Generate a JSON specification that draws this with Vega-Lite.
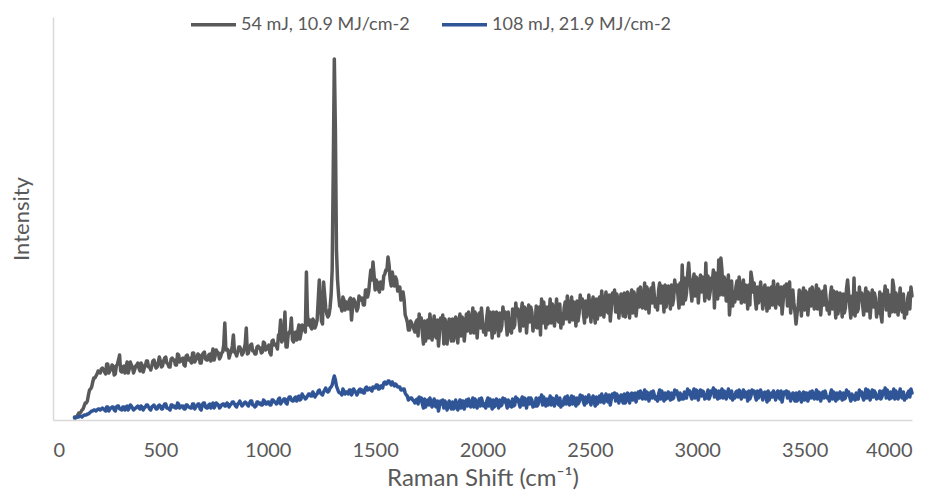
{
"$schema": "https://vega.github.io/schema/vega-lite/v6.json",
"width": 859, "height": 403,
"autosize": {"type": "none"},
"padding": {"left": 53, "top": 17, "right": 27, "bottom": 77},
"config": {"view": {"stroke": null}, "font": "Lato"},
"data": {"values": [
{"x":100,"g":3,"b":2},{"x":110,"g":3,"b":3},{"x":120,"g":7,"b":3},{"x":130,"g":8,"b":4},{"x":140,"g":11,"b":4},{"x":150,"g":17,"b":5},{"x":160,"g":19,"b":6},{"x":170,"g":30,"b":7},{"x":180,"g":33,"b":9},{"x":190,"g":42,"b":10},
{"x":200,"g":44,"b":9},{"x":210,"g":49,"b":11},{"x":220,"g":47,"b":10},{"x":230,"g":52,"b":12},{"x":240,"g":48,"b":10},{"x":250,"g":56,"b":13},{"x":260,"g":47,"b":9},{"x":270,"g":51,"b":12},{"x":280,"g":54,"b":13},{"x":290,"g":46,"b":9},
{"x":300,"g":56,"b":14},{"x":310,"g":65,"b":11},{"x":320,"g":48,"b":10},{"x":330,"g":54,"b":13},{"x":340,"g":53,"b":13},{"x":350,"g":47,"b":10},{"x":360,"g":58,"b":15},{"x":370,"g":53,"b":12},{"x":380,"g":50,"b":11},{"x":390,"g":55,"b":13},
{"x":400,"g":52,"b":12},{"x":410,"g":57,"b":14},{"x":420,"g":48,"b":10},{"x":430,"g":54,"b":13},{"x":440,"g":59,"b":15},{"x":450,"g":53,"b":11},{"x":460,"g":54,"b":13},{"x":470,"g":60,"b":15},{"x":480,"g":52,"b":11},{"x":490,"g":57,"b":14},
{"x":500,"g":59,"b":14},{"x":510,"g":54,"b":11},{"x":520,"g":62,"b":16},{"x":530,"g":57,"b":12},{"x":540,"g":53,"b":11},{"x":550,"g":61,"b":15},{"x":560,"g":60,"b":13},{"x":570,"g":55,"b":12},{"x":580,"g":66,"b":17},{"x":590,"g":58,"b":12},
{"x":600,"g":61,"b":14},{"x":610,"g":55,"b":11},{"x":620,"g":64,"b":15},{"x":630,"g":60,"b":13},{"x":640,"g":59,"b":12},{"x":650,"g":67,"b":16},{"x":660,"g":58,"b":11},{"x":670,"g":62,"b":14},{"x":680,"g":65,"b":16},{"x":690,"g":57,"b":10},
{"x":700,"g":67,"b":17},{"x":710,"g":61,"b":13},{"x":720,"g":60,"b":12},{"x":730,"g":66,"b":16},{"x":740,"g":65,"b":15},{"x":750,"g":60,"b":12},{"x":760,"g":70,"b":17},{"x":770,"g":67,"b":15},{"x":780,"g":63,"b":13},{"x":790,"g":68,"b":16},
{"x":800,"g":97,"b":14},{"x":810,"g":71,"b":17},{"x":820,"g":62,"b":13},{"x":830,"g":68,"b":16},{"x":840,"g":85,"b":18},{"x":850,"g":67,"b":14},{"x":860,"g":68,"b":16},{"x":870,"g":73,"b":19},{"x":880,"g":65,"b":14},{"x":890,"g":71,"b":17},
{"x":900,"g":92,"b":17},{"x":910,"g":67,"b":14},{"x":920,"g":75,"b":19},{"x":930,"g":69,"b":15},{"x":940,"g":66,"b":13},{"x":950,"g":73,"b":18},{"x":960,"g":72,"b":16},{"x":970,"g":67,"b":15},{"x":980,"g":78,"b":20},{"x":990,"g":70,"b":16},
{"x":1000,"g":73,"b":18},{"x":1010,"g":67,"b":15},{"x":1020,"g":79,"b":20},{"x":1030,"g":75,"b":18},{"x":1040,"g":74,"b":16},{"x":1050,"g":85,"b":21},{"x":1060,"g":100,"b":16},{"x":1070,"g":80,"b":19},{"x":1080,"g":108,"b":21},{"x":1090,"g":73,"b":16},
{"x":1100,"g":88,"b":23},{"x":1110,"g":102,"b":20},{"x":1120,"g":78,"b":19},{"x":1130,"g":88,"b":23},{"x":1140,"g":89,"b":23},{"x":1150,"g":81,"b":20},{"x":1160,"g":95,"b":26},{"x":1170,"g":91,"b":23},{"x":1180,"g":148,"b":22},{"x":1190,"g":95,"b":26},
{"x":1200,"g":93,"b":24},{"x":1210,"g":101,"b":28},{"x":1220,"g":92,"b":23},{"x":1230,"g":100,"b":26},{"x":1240,"g":140,"b":30},{"x":1250,"g":99,"b":26},{"x":1260,"g":138,"b":28},{"x":1270,"g":112,"b":32},{"x":1280,"g":103,"b":28},{"x":1290,"g":112,"b":32},
{"x":1300,"g":150,"b":35},{"x":1310,"g":361,"b":44},{"x":1320,"g":170,"b":34},{"x":1330,"g":125,"b":28},{"x":1340,"g":114,"b":27},{"x":1350,"g":123,"b":31},{"x":1360,"g":110,"b":26},{"x":1370,"g":116,"b":28},{"x":1380,"g":120,"b":30},{"x":1390,"g":100,"b":25},
{"x":1400,"g":121,"b":31},{"x":1410,"g":114,"b":28},{"x":1420,"g":112,"b":27},{"x":1430,"g":122,"b":31},{"x":1440,"g":122,"b":30},{"x":1450,"g":115,"b":27},{"x":1460,"g":130,"b":33},{"x":1470,"g":128,"b":31},{"x":1480,"g":150,"b":30},{"x":1490,"g":158,"b":33},
{"x":1500,"g":130,"b":32},{"x":1510,"g":138,"b":35},{"x":1520,"g":128,"b":31},{"x":1530,"g":136,"b":34},{"x":1540,"g":144,"b":37},{"x":1550,"g":150,"b":36},{"x":1560,"g":163,"b":39},{"x":1570,"g":140,"b":37},{"x":1580,"g":148,"b":38},{"x":1590,"g":134,"b":34},
{"x":1600,"g":140,"b":35},{"x":1610,"g":133,"b":33},{"x":1620,"g":120,"b":30},{"x":1630,"g":128,"b":31},{"x":1640,"g":105,"b":27},{"x":1650,"g":98,"b":24},{"x":1660,"g":90,"b":21},{"x":1670,"g":97,"b":22},{"x":1680,"g":91,"b":19},{"x":1690,"g":98,"b":20},
{"x":1700,"g":84,"b":16},{"x":1710,"g":95,"b":19},{"x":1720,"g":87,"b":16},{"x":1730,"g":99,"b":21},{"x":1740,"g":89,"b":17},{"x":1750,"g":82,"b":15},{"x":1760,"g":95,"b":19},{"x":1770,"g":92,"b":17},{"x":1780,"g":84,"b":14},{"x":1790,"g":100,"b":19},
{"x":1800,"g":87,"b":14},{"x":1810,"g":92,"b":16},{"x":1820,"g":76,"b":12},{"x":1830,"g":97,"b":17},{"x":1840,"g":90,"b":15},{"x":1850,"g":88,"b":13},{"x":1860,"g":101,"b":18},{"x":1870,"g":85,"b":12},{"x":1880,"g":93,"b":15},{"x":1890,"g":99,"b":17},
{"x":1900,"g":84,"b":12},{"x":1910,"g":101,"b":19},{"x":1920,"g":91,"b":15},{"x":1930,"g":89,"b":14},{"x":1940,"g":99,"b":18},{"x":1950,"g":98,"b":17},{"x":1960,"g":87,"b":13},{"x":1970,"g":105,"b":19},{"x":1980,"g":98,"b":16},{"x":1990,"g":92,"b":14},
{"x":2000,"g":100,"b":18},{"x":2010,"g":95,"b":16},{"x":2020,"g":103,"b":19},{"x":2030,"g":90,"b":14},{"x":2040,"g":98,"b":17},{"x":2050,"g":108,"b":20},{"x":2060,"g":95,"b":15},{"x":2070,"g":98,"b":17},{"x":2080,"g":107,"b":20},{"x":2090,"g":94,"b":15},
{"x":2100,"g":102,"b":18},{"x":2110,"g":98,"b":17},{"x":2120,"g":108,"b":20},{"x":2130,"g":101,"b":18},{"x":2140,"g":111,"b":21},{"x":2150,"g":95,"b":15},{"x":2160,"g":105,"b":19},{"x":2170,"g":100,"b":17},{"x":2180,"g":108,"b":20},{"x":2190,"g":94,"b":15},
{"x":2200,"g":111,"b":21},{"x":2210,"g":103,"b":18},{"x":2220,"g":98,"b":16},{"x":2230,"g":108,"b":20},{"x":2240,"g":102,"b":17},{"x":2250,"g":114,"b":22},{"x":2260,"g":99,"b":16},{"x":2270,"g":85,"b":19},{"x":2280,"g":97,"b":15},{"x":2290,"g":106,"b":18},
{"x":2300,"g":113,"b":21},{"x":2310,"g":103,"b":18},{"x":2320,"g":97,"b":15},{"x":2330,"g":112,"b":21},{"x":2340,"g":107,"b":19},{"x":2350,"g":101,"b":17},{"x":2360,"g":116,"b":22},{"x":2370,"g":106,"b":18},{"x":2380,"g":112,"b":21},{"x":2390,"g":101,"b":16},
{"x":2400,"g":115,"b":21},{"x":2410,"g":108,"b":19},{"x":2420,"g":100,"b":16},{"x":2430,"g":113,"b":20},{"x":2440,"g":119,"b":22},{"x":2450,"g":107,"b":18},{"x":2460,"g":113,"b":21},{"x":2470,"g":106,"b":18},{"x":2480,"g":119,"b":23},{"x":2490,"g":109,"b":19},
{"x":2500,"g":113,"b":20},{"x":2510,"g":115,"b":21},{"x":2520,"g":107,"b":18},{"x":2530,"g":121,"b":23},{"x":2540,"g":111,"b":19},{"x":2550,"g":105,"b":18},{"x":2560,"g":118,"b":23},{"x":2570,"g":115,"b":21},{"x":2580,"g":109,"b":19},{"x":2590,"g":125,"b":25},
{"x":2600,"g":112,"b":21},{"x":2610,"g":117,"b":23},{"x":2620,"g":108,"b":19},{"x":2630,"g":122,"b":24},{"x":2640,"g":116,"b":22},{"x":2650,"g":113,"b":20},{"x":2660,"g":127,"b":26},{"x":2670,"g":111,"b":20},{"x":2680,"g":119,"b":23},{"x":2690,"g":124,"b":26},
{"x":2700,"g":107,"b":20},{"x":2710,"g":124,"b":27},{"x":2720,"g":115,"b":23},{"x":2730,"g":113,"b":22},{"x":2740,"g":123,"b":26},{"x":2750,"g":122,"b":25},{"x":2760,"g":111,"b":21},{"x":2770,"g":129,"b":27},{"x":2780,"g":123,"b":24},{"x":2790,"g":117,"b":22},
{"x":2800,"g":125,"b":25},{"x":2810,"g":121,"b":23},{"x":2820,"g":130,"b":26},{"x":2830,"g":117,"b":21},{"x":2840,"g":126,"b":24},{"x":2850,"g":135,"b":27},{"x":2860,"g":123,"b":22},{"x":2870,"g":126,"b":24},{"x":2880,"g":135,"b":27},{"x":2890,"g":121,"b":22},
{"x":2900,"g":129,"b":26},{"x":2910,"g":125,"b":24},{"x":2920,"g":137,"b":27},{"x":2930,"g":155,"b":25},{"x":2940,"g":142,"b":28},{"x":2950,"g":127,"b":22},{"x":2960,"g":157,"b":26},{"x":2970,"g":130,"b":24},{"x":2980,"g":138,"b":27},{"x":2990,"g":124,"b":22},
{"x":3000,"g":141,"b":29},{"x":3010,"g":133,"b":26},{"x":3020,"g":128,"b":24},{"x":3030,"g":138,"b":28},{"x":3040,"g":157,"b":25},{"x":3050,"g":144,"b":30},{"x":3060,"g":128,"b":24},{"x":3070,"g":137,"b":27},{"x":3080,"g":112,"b":23},{"x":3090,"g":136,"b":26},
{"x":3100,"g":160,"b":29},{"x":3110,"g":162,"b":25},{"x":3120,"g":125,"b":22},{"x":3130,"g":139,"b":28},{"x":3140,"g":133,"b":26},{"x":3150,"g":105,"b":24},{"x":3160,"g":139,"b":29},{"x":3170,"g":128,"b":25},{"x":3180,"g":133,"b":28},{"x":3190,"g":121,"b":23},
{"x":3200,"g":134,"b":28},{"x":3210,"g":127,"b":26},{"x":3220,"g":118,"b":23},{"x":3230,"g":130,"b":27},{"x":3240,"g":135,"b":29},{"x":3250,"g":148,"b":24},{"x":3260,"g":128,"b":27},{"x":3270,"g":121,"b":24},{"x":3280,"g":133,"b":29},{"x":3290,"g":122,"b":25},
{"x":3300,"g":126,"b":26},{"x":3310,"g":128,"b":27},{"x":3320,"g":120,"b":24},{"x":3330,"g":132,"b":29},{"x":3340,"g":122,"b":25},{"x":3350,"g":115,"b":23},{"x":3360,"g":127,"b":27},{"x":3370,"g":124,"b":25},{"x":3380,"g":117,"b":23},{"x":3390,"g":133,"b":29},
{"x":3400,"g":119,"b":24},{"x":3410,"g":124,"b":26},{"x":3420,"g":114,"b":22},{"x":3430,"g":138,"b":26},{"x":3440,"g":121,"b":24},{"x":3450,"g":117,"b":22},{"x":3460,"g":96,"b":27},{"x":3470,"g":114,"b":21},{"x":3480,"g":121,"b":24},{"x":3490,"g":126,"b":26},
{"x":3500,"g":110,"b":20},{"x":3510,"g":127,"b":27},{"x":3520,"g":117,"b":23},{"x":3530,"g":114,"b":22},{"x":3540,"g":124,"b":26},{"x":3550,"g":122,"b":25},{"x":3560,"g":111,"b":21},{"x":3570,"g":128,"b":27},{"x":3580,"g":121,"b":24},{"x":3590,"g":115,"b":22},
{"x":3600,"g":122,"b":25},{"x":3610,"g":117,"b":23},{"x":3620,"g":125,"b":26},{"x":3630,"g":111,"b":21},{"x":3640,"g":119,"b":24},{"x":3650,"g":128,"b":27},{"x":3660,"g":115,"b":22},{"x":3670,"g":118,"b":24},{"x":3680,"g":126,"b":27},{"x":3690,"g":112,"b":22},
{"x":3700,"g":140,"b":25},{"x":3710,"g":114,"b":23},{"x":3720,"g":124,"b":26},{"x":3730,"g":142,"b":24},{"x":3740,"g":127,"b":27},{"x":3750,"g":111,"b":21},{"x":3760,"g":120,"b":25},{"x":3770,"g":115,"b":23},{"x":3780,"g":123,"b":26},{"x":3790,"g":109,"b":22},
{"x":3800,"g":126,"b":28},{"x":3810,"g":118,"b":25},{"x":3820,"g":113,"b":23},{"x":3830,"g":122,"b":27},{"x":3840,"g":116,"b":24},{"x":3850,"g":128,"b":29},{"x":3860,"g":98,"b":23},{"x":3870,"g":121,"b":26},{"x":3880,"g":110,"b":22},{"x":3890,"g":119,"b":25},
{"x":3900,"g":125,"b":28},{"x":3910,"g":140,"b":24},{"x":3920,"g":108,"b":21},{"x":3930,"g":123,"b":27},{"x":3940,"g":118,"b":25},{"x":3950,"g":112,"b":23},{"x":3960,"g":126,"b":28},{"x":3970,"g":116,"b":24},{"x":3980,"g":122,"b":27},{"x":3990,"g":111,"b":23},
{"x":4000,"g":124,"b":27},
{"x":105,"g":3,"b":2},{"x":115,"g":5,"b":3},{"x":125,"g":7,"b":4},{"x":135,"g":10,"b":3},{"x":145,"g":14,"b":5},{"x":155,"g":17,"b":5},{"x":165,"g":25,"b":6},{"x":175,"g":31,"b":8},{"x":185,"g":38,"b":9},{"x":195,"g":42,"b":10},
{"x":205,"g":46,"b":10},{"x":215,"g":48,"b":11},{"x":225,"g":51,"b":11},{"x":235,"g":50,"b":11},{"x":245,"g":46,"b":9},{"x":255,"g":56,"b":13},{"x":265,"g":49,"b":11},{"x":275,"g":55,"b":13},{"x":285,"g":45,"b":10},{"x":295,"g":54,"b":13},
{"x":305,"g":60,"b":14},{"x":315,"g":49,"b":11},{"x":325,"g":53,"b":13},{"x":335,"g":47,"b":10},{"x":345,"g":58,"b":14},{"x":355,"g":51,"b":12},{"x":365,"g":55,"b":14},{"x":375,"g":47,"b":10},{"x":385,"g":54,"b":12},{"x":395,"g":57,"b":14},
{"x":405,"g":49,"b":11},{"x":415,"g":55,"b":13},{"x":425,"g":52,"b":12},{"x":435,"g":59,"b":15},{"x":445,"g":53,"b":13},{"x":455,"g":50,"b":10},{"x":465,"g":59,"b":14},{"x":475,"g":56,"b":13},{"x":485,"g":53,"b":11},{"x":495,"g":63,"b":15},
{"x":505,"g":53,"b":11},{"x":515,"g":59,"b":14},{"x":525,"g":63,"b":16},{"x":535,"g":56,"b":12},{"x":545,"g":53,"b":10},{"x":555,"g":62,"b":15},{"x":565,"g":60,"b":14},{"x":575,"g":55,"b":12},{"x":585,"g":65,"b":16},{"x":595,"g":59,"b":13},
{"x":605,"g":62,"b":14},{"x":615,"g":54,"b":11},{"x":625,"g":65,"b":15},{"x":635,"g":62,"b":13},{"x":645,"g":57,"b":12},{"x":655,"g":67,"b":16},{"x":665,"g":60,"b":13},{"x":675,"g":66,"b":16},{"x":685,"g":57,"b":11},{"x":695,"g":65,"b":15},
{"x":705,"g":68,"b":17},{"x":715,"g":60,"b":12},{"x":725,"g":65,"b":15},{"x":735,"g":59,"b":12},{"x":745,"g":71,"b":17},{"x":755,"g":64,"b":14},{"x":765,"g":68,"b":16},{"x":775,"g":61,"b":12},{"x":785,"g":67,"b":15},{"x":795,"g":75,"b":16},
{"x":805,"g":70,"b":14},{"x":815,"g":70,"b":16},{"x":825,"g":66,"b":15},{"x":835,"g":74,"b":18},{"x":845,"g":68,"b":16},{"x":855,"g":64,"b":13},{"x":865,"g":73,"b":17},{"x":875,"g":70,"b":16},{"x":885,"g":67,"b":15},{"x":895,"g":76,"b":18},
{"x":905,"g":66,"b":15},{"x":915,"g":72,"b":17},{"x":925,"g":76,"b":19},{"x":935,"g":69,"b":15},{"x":945,"g":66,"b":14},{"x":955,"g":74,"b":18},{"x":965,"g":72,"b":17},{"x":975,"g":68,"b":15},{"x":985,"g":77,"b":19},{"x":995,"g":71,"b":16},
{"x":1005,"g":75,"b":18},{"x":1015,"g":65,"b":15},{"x":1025,"g":80,"b":20},{"x":1035,"g":76,"b":18},{"x":1045,"g":71,"b":17},{"x":1055,"g":86,"b":22},{"x":1065,"g":78,"b":18},{"x":1075,"g":85,"b":21},{"x":1085,"g":73,"b":17},{"x":1095,"g":85,"b":21},
{"x":1105,"g":89,"b":23},{"x":1115,"g":80,"b":19},{"x":1125,"g":87,"b":22},{"x":1135,"g":80,"b":19},{"x":1145,"g":95,"b":24},{"x":1155,"g":87,"b":21},{"x":1165,"g":94,"b":24},{"x":1175,"g":88,"b":21},{"x":1185,"g":105,"b":24},{"x":1195,"g":100,"b":26},
{"x":1205,"g":91,"b":24},{"x":1215,"g":99,"b":26},{"x":1225,"g":95,"b":25},{"x":1235,"g":120,"b":29},{"x":1245,"g":118,"b":27},{"x":1255,"g":96,"b":25},{"x":1265,"g":125,"b":30},{"x":1275,"g":106,"b":29},{"x":1285,"g":105,"b":29},{"x":1295,"g":125,"b":33},
{"x":1305,"g":250,"b":40},{"x":1315,"g":290,"b":40},{"x":1325,"g":140,"b":31},{"x":1335,"g":114,"b":27},{"x":1345,"g":109,"b":25},{"x":1355,"g":120,"b":29},{"x":1365,"g":118,"b":28},{"x":1375,"g":111,"b":26},{"x":1385,"g":122,"b":30},{"x":1395,"g":113,"b":27},
{"x":1405,"g":119,"b":29},{"x":1415,"g":109,"b":25},{"x":1425,"g":124,"b":30},{"x":1435,"g":120,"b":28},{"x":1445,"g":115,"b":27},{"x":1455,"g":130,"b":32},{"x":1465,"g":123,"b":30},{"x":1475,"g":140,"b":32},{"x":1485,"g":140,"b":29},{"x":1495,"g":145,"b":32},
{"x":1505,"g":140,"b":35},{"x":1515,"g":131,"b":31},{"x":1525,"g":138,"b":34},{"x":1535,"g":131,"b":32},{"x":1545,"g":146,"b":38},{"x":1555,"g":150,"b":36},{"x":1565,"g":155,"b":39},{"x":1575,"g":134,"b":35},{"x":1585,"g":141,"b":36},{"x":1595,"g":143,"b":36},
{"x":1605,"g":129,"b":33},{"x":1615,"g":133,"b":33},{"x":1625,"g":124,"b":30},{"x":1635,"g":120,"b":31},{"x":1645,"g":102,"b":25},{"x":1655,"g":90,"b":20},{"x":1665,"g":99,"b":22},{"x":1675,"g":94,"b":20},{"x":1685,"g":88,"b":17},{"x":1695,"g":100,"b":21},
{"x":1705,"g":106,"b":23},{"x":1715,"g":102,"b":22},{"x":1725,"g":76,"b":12},{"x":1735,"g":79,"b":13},{"x":1745,"g":100,"b":20},{"x":1755,"g":106,"b":22},{"x":1765,"g":80,"b":13},{"x":1775,"g":104,"b":21},{"x":1785,"g":82,"b":13},{"x":1795,"g":74,"b":9},
{"x":1805,"g":102,"b":19},{"x":1815,"g":105,"b":20},{"x":1825,"g":101,"b":19},{"x":1835,"g":76,"b":10},{"x":1845,"g":101,"b":19},{"x":1855,"g":79,"b":11},{"x":1865,"g":79,"b":11},{"x":1875,"g":103,"b":20},{"x":1885,"g":77,"b":10},{"x":1895,"g":106,"b":20},
{"x":1905,"g":103,"b":19},{"x":1915,"g":79,"b":11},{"x":1925,"g":106,"b":20},{"x":1935,"g":108,"b":21},{"x":1945,"g":87,"b":13},{"x":1955,"g":112,"b":22},{"x":1965,"g":108,"b":21},{"x":1975,"g":82,"b":12},{"x":1985,"g":107,"b":21},{"x":1995,"g":112,"b":22},
{"x":2005,"g":88,"b":14},{"x":2015,"g":85,"b":12},{"x":2025,"g":112,"b":22},{"x":2035,"g":108,"b":21},{"x":2045,"g":82,"b":11},{"x":2055,"g":87,"b":13},{"x":2065,"g":108,"b":21},{"x":2075,"g":84,"b":12},{"x":2085,"g":89,"b":14},{"x":2095,"g":113,"b":22},
{"x":2105,"g":108,"b":21},{"x":2115,"g":85,"b":12},{"x":2125,"g":89,"b":14},{"x":2135,"g":87,"b":13},{"x":2145,"g":92,"b":14},{"x":2155,"g":117,"b":23},{"x":2165,"g":111,"b":21},{"x":2175,"g":89,"b":13},{"x":2185,"g":117,"b":23},{"x":2195,"g":113,"b":22},
{"x":2205,"g":87,"b":12},{"x":2215,"g":115,"b":22},{"x":2225,"g":113,"b":22},{"x":2235,"g":89,"b":13},{"x":2245,"g":93,"b":14},{"x":2255,"g":92,"b":14},{"x":2265,"g":113,"b":22},{"x":2275,"g":121,"b":25},{"x":2285,"g":118,"b":23},{"x":2295,"g":92,"b":14},
{"x":2305,"g":96,"b":15},{"x":2315,"g":121,"b":24},{"x":2325,"g":116,"b":22},{"x":2335,"g":94,"b":14},{"x":2345,"g":121,"b":24},{"x":2355,"g":98,"b":15},{"x":2365,"g":92,"b":13},{"x":2375,"g":96,"b":15},{"x":2385,"g":118,"b":23},{"x":2395,"g":124,"b":24},
{"x":2405,"g":98,"b":15},{"x":2415,"g":123,"b":24},{"x":2425,"g":118,"b":23},{"x":2435,"g":94,"b":14},{"x":2445,"g":99,"b":16},{"x":2455,"g":125,"b":25},{"x":2465,"g":121,"b":24},{"x":2475,"g":97,"b":15},{"x":2485,"g":103,"b":17},{"x":2495,"g":125,"b":25},
{"x":2505,"g":98,"b":15},{"x":2515,"g":123,"b":24},{"x":2525,"g":97,"b":14},{"x":2535,"g":101,"b":16},{"x":2545,"g":123,"b":24},{"x":2555,"g":129,"b":26},{"x":2565,"g":103,"b":17},{"x":2575,"g":128,"b":26},{"x":2585,"g":107,"b":18},{"x":2595,"g":99,"b":15},
{"x":2605,"g":127,"b":26},{"x":2615,"g":130,"b":27},{"x":2625,"g":126,"b":26},{"x":2635,"g":102,"b":17},{"x":2645,"g":126,"b":25},{"x":2655,"g":104,"b":17},{"x":2665,"g":103,"b":17},{"x":2675,"g":128,"b":27},{"x":2685,"g":102,"b":17},{"x":2695,"g":130,"b":27},
{"x":2705,"g":128,"b":26},{"x":2715,"g":104,"b":18},{"x":2725,"g":131,"b":28},{"x":2735,"g":133,"b":29},{"x":2745,"g":112,"b":21},{"x":2755,"g":137,"b":30},{"x":2765,"g":133,"b":28},{"x":2775,"g":107,"b":19},{"x":2785,"g":132,"b":28},{"x":2795,"g":137,"b":29},
{"x":2805,"g":113,"b":21},{"x":2815,"g":110,"b":19},{"x":2825,"g":137,"b":30},{"x":2835,"g":134,"b":29},{"x":2845,"g":108,"b":19},{"x":2855,"g":113,"b":21},{"x":2865,"g":134,"b":28},{"x":2875,"g":111,"b":20},{"x":2885,"g":115,"b":21},{"x":2895,"g":140,"b":30},
{"x":2905,"g":135,"b":29},{"x":2915,"g":112,"b":20},{"x":2925,"g":116,"b":21},{"x":2935,"g":116,"b":21},{"x":2945,"g":120,"b":22},{"x":2955,"g":145,"b":31},{"x":2965,"g":141,"b":29},{"x":2975,"g":119,"b":21},{"x":2985,"g":146,"b":31},{"x":2995,"g":143,"b":30},
{"x":3005,"g":117,"b":20},{"x":3015,"g":145,"b":30},{"x":3025,"g":143,"b":29},{"x":3035,"g":119,"b":21},{"x":3045,"g":123,"b":22},{"x":3055,"g":121,"b":21},{"x":3065,"g":142,"b":29},{"x":3075,"g":150,"b":32},{"x":3085,"g":147,"b":30},{"x":3095,"g":121,"b":21},
{"x":3105,"g":125,"b":22},{"x":3115,"g":150,"b":31},{"x":3125,"g":143,"b":29},{"x":3135,"g":119,"b":21},{"x":3145,"g":145,"b":31},{"x":3155,"g":120,"b":22},{"x":3165,"g":114,"b":20},{"x":3175,"g":118,"b":22},{"x":3185,"g":139,"b":29},{"x":3195,"g":143,"b":30},
{"x":3205,"g":117,"b":21},{"x":3215,"g":140,"b":30},{"x":3225,"g":135,"b":28},{"x":3235,"g":111,"b":19},{"x":3245,"g":115,"b":21},{"x":3255,"g":141,"b":30},{"x":3265,"g":137,"b":29},{"x":3275,"g":111,"b":20},{"x":3285,"g":117,"b":22},{"x":3295,"g":138,"b":30},
{"x":3305,"g":111,"b":20},{"x":3315,"g":135,"b":28},{"x":3325,"g":109,"b":18},{"x":3335,"g":112,"b":20},{"x":3345,"g":133,"b":27},{"x":3355,"g":139,"b":29},{"x":3365,"g":112,"b":20},{"x":3375,"g":136,"b":29},{"x":3385,"g":115,"b":21},{"x":3395,"g":106,"b":18},
{"x":3405,"g":134,"b":28},{"x":3415,"g":136,"b":29},{"x":3425,"g":132,"b":28},{"x":3435,"g":107,"b":19},{"x":3445,"g":130,"b":27},{"x":3455,"g":108,"b":19},{"x":3465,"g":107,"b":19},{"x":3475,"g":130,"b":28},{"x":3485,"g":104,"b":18},{"x":3495,"g":132,"b":28},
{"x":3505,"g":129,"b":27},{"x":3515,"g":105,"b":19},{"x":3525,"g":131,"b":28},{"x":3535,"g":133,"b":29},{"x":3545,"g":111,"b":21},{"x":3555,"g":135,"b":30},{"x":3565,"g":131,"b":28},{"x":3575,"g":105,"b":19},{"x":3585,"g":129,"b":28},{"x":3595,"g":134,"b":29},
{"x":3605,"g":110,"b":22},{"x":3615,"g":106,"b":19},{"x":3625,"g":133,"b":30},{"x":3635,"g":129,"b":28},{"x":3645,"g":102,"b":19},{"x":3655,"g":106,"b":21},{"x":3665,"g":127,"b":28},{"x":3675,"g":103,"b":20},{"x":3685,"g":107,"b":21},{"x":3695,"g":131,"b":30},
{"x":3705,"g":126,"b":28},{"x":3715,"g":102,"b":19},{"x":3725,"g":106,"b":21},{"x":3735,"g":104,"b":20},{"x":3745,"g":108,"b":21},{"x":3755,"g":133,"b":30},{"x":3765,"g":127,"b":28},{"x":3775,"g":105,"b":20},{"x":3785,"g":132,"b":31},{"x":3795,"g":128,"b":30},
{"x":3805,"g":102,"b":20},{"x":3815,"g":130,"b":30},{"x":3825,"g":127,"b":29},{"x":3835,"g":103,"b":21},{"x":3845,"g":107,"b":22},{"x":3855,"g":105,"b":21},{"x":3865,"g":126,"b":29},{"x":3875,"g":134,"b":32},{"x":3885,"g":130,"b":30},{"x":3895,"g":104,"b":21},
{"x":3905,"g":108,"b":22},{"x":3915,"g":133,"b":31},{"x":3925,"g":127,"b":29},{"x":3935,"g":105,"b":21},{"x":3945,"g":132,"b":31},{"x":3955,"g":108,"b":22},{"x":3965,"g":102,"b":20},{"x":3975,"g":106,"b":22},{"x":3985,"g":127,"b":29},{"x":3995,"g":133,"b":31}
]},
"transform": [{"fold": ["g", "b"], "as": ["s", "v"]}],
"mark": {"type": "line", "strokeWidth": 3.5, "strokeJoin": "round", "strokeCap": "round"},
"encoding": {
  "x": {"field": "x", "type": "quantitative",
        "scale": {"domain": [0, 4000], "nice": false},
        "axis": {"values": [0,500,1000,1500,2000,2500,3000,3500,4000], "format": "d", "grid": false, "ticks": false,
                 "domainColor": "#d9d9d9", "domainWidth": 1.5,
                 "labelFont": "Lato", "labelFontSize": 20, "labelColor": "#595959", "labelPadding": 20,
                 "title": "Raman Shift (cm⁻¹)", "titleFont": "Lato", "titleFontSize": 24, "titleFontWeight": "normal",
                 "titleColor": "#595959", "titlePadding": 6}},
  "y": {"field": "v", "type": "quantitative",
        "scale": {"domain": [0, 403], "nice": false},
        "axis": {"labels": false, "ticks": false, "grid": false, "domainColor": "#d9d9d9", "domainWidth": 1.5,
                 "title": "Intensity", "titleFont": "Lato", "titleFontSize": 22, "titleFontWeight": "normal",
                 "titleColor": "#595959", "titlePadding": 20}},
  "color": {"field": "s", "type": "nominal",
            "scale": {"domain": ["g", "b"], "range": ["#595959", "#2F5597"]},
            "legend": {"orient": "none", "legendX": 136, "legendY": -17, "direction": "horizontal", "title": null,
                       "symbolType": "stroke", "symbolStrokeWidth": 3.5, "symbolSize": 2025,
                       "labelFont": "Lato", "labelFontSize": 18, "labelColor": "#595959", "labelOffset": 3,
                       "columnPadding": 25, "labelLimit": 400,
                       "labelExpr": "datum.label == 'g' ? '54 mJ, 10.9 MJ/cm-2' : '108 mJ, 21.9 MJ/cm-2'"}}
}
}
